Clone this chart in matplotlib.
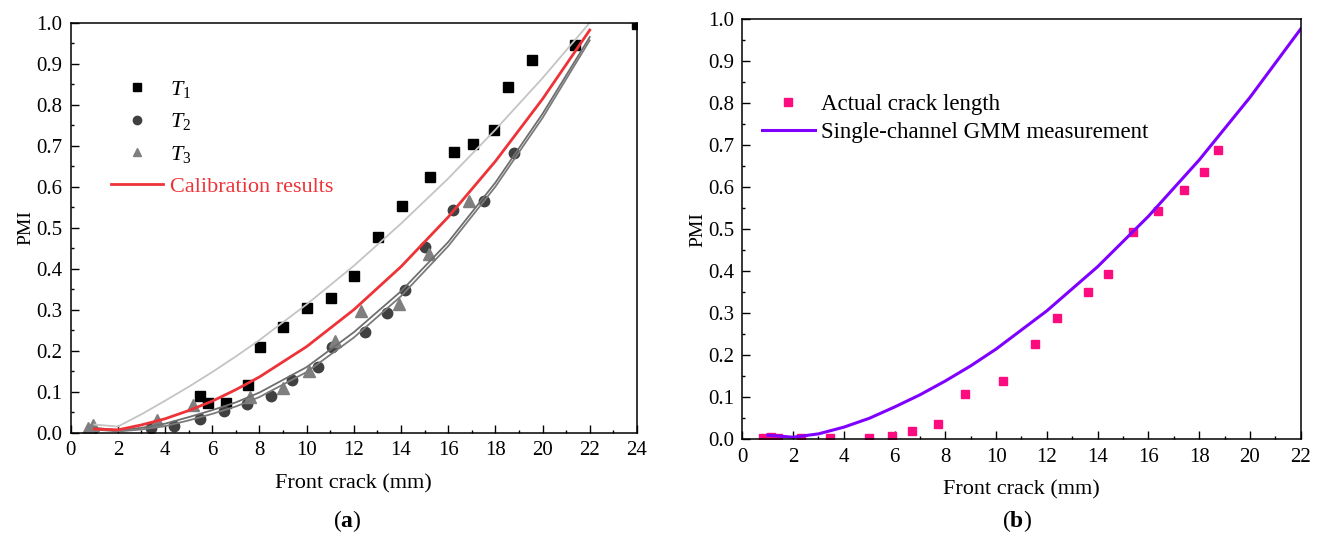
import numpy as np
import matplotlib.pyplot as plt
from matplotlib.ticker import MultipleLocator, FormatStrFormatter

plt.rcParams['font.family'] = 'Liberation Serif'
plt.rcParams['mathtext.fontset'] = 'custom'
plt.rcParams['mathtext.rm'] = 'Liberation Serif'
plt.rcParams['mathtext.it'] = 'Liberation Serif:italic'
plt.rcParams['mathtext.bf'] = 'Liberation Serif:bold'

# (a) three specimens, front crack vs PMI
t1_x = [5.5, 5.84, 6.57, 7.52, 8.03, 9.0, 10.02, 11.04, 12.02, 13.02, 14.06, 15.23, 16.25, 17.04, 17.93, 18.53, 19.57, 21.36, 24.0]
t1_y = [0.090, 0.072, 0.073, 0.116, 0.208, 0.259, 0.303, 0.328, 0.382, 0.478, 0.553, 0.624, 0.685, 0.703, 0.739, 0.844, 0.910, 0.945, 0.997]

t2_x = [0.9, 3.39, 4.38, 5.5, 6.49, 7.49, 8.48, 9.39, 10.49, 11.09, 12.49, 13.39, 14.19, 15.0, 16.2, 17.5, 18.81]
t2_y = [0.006, 0.011, 0.016, 0.034, 0.053, 0.071, 0.090, 0.129, 0.161, 0.208, 0.246, 0.293, 0.349, 0.453, 0.542, 0.565, 0.683]

t3_x = [0.75, 0.95, 3.64, 5.17, 7.6, 9.0, 10.09, 11.19, 12.31, 13.9, 15.19, 16.9]
t3_y = [0.012, 0.019, 0.031, 0.068, 0.088, 0.110, 0.151, 0.224, 0.296, 0.315, 0.436, 0.564]

fit_x = [1, 2, 3, 4, 5, 6, 7, 8, 10, 12, 14, 16, 18, 20, 22]
fit_t1 = [0.02, 0.015, 0.045, 0.078, 0.112, 0.148, 0.186, 0.226, 0.313, 0.407, 0.51, 0.62, 0.739, 0.865, 1.0]
fit_t2 = [0.012, 0.006, 0.012, 0.022, 0.038, 0.055, 0.074, 0.098, 0.16, 0.245, 0.345, 0.465, 0.61, 0.778, 0.965]
fit_t3 = [0.008, 0.003, 0.008, 0.016, 0.03, 0.046, 0.064, 0.087, 0.148, 0.232, 0.333, 0.455, 0.60, 0.768, 0.957]
calib = [0.009, 0.007, 0.019, 0.034, 0.054, 0.077, 0.105, 0.136, 0.21, 0.30, 0.405, 0.526, 0.662, 0.814, 0.982]

# (b) single-channel measurement
act_x = [0.81, 1.13, 1.39, 2.3, 3.47, 4.98, 5.9, 6.69, 7.72, 8.78, 10.29, 11.52, 12.4, 13.62, 14.41, 15.4, 16.38, 17.42, 18.21, 18.73]
act_y = [0.004, 0.006, 0.004, 0.004, 0.004, 0.002, 0.008, 0.019, 0.036, 0.109, 0.139, 0.226, 0.288, 0.350, 0.393, 0.493, 0.543, 0.593, 0.636, 0.688]

gmm_x = [1, 2, 3, 4, 5, 6, 7, 8, 9, 10, 12, 14, 16, 18, 20, 22]
gmm_y = [0.010, 0.005, 0.013, 0.029, 0.05, 0.077, 0.106, 0.139, 0.175, 0.215, 0.306, 0.411, 0.531, 0.665, 0.814, 0.977]

fig = plt.figure(figsize=(13.19, 5.38), dpi=100)
ax1 = fig.add_axes([0.0536, 0.1957, 0.4293, 0.7621])
ax2 = fig.add_axes([0.5628, 0.1834, 0.4233, 0.7807])


def style(ax, xmax):
    ax.set_xlim(0, xmax)
    ax.set_ylim(0, 1.0)
    ax.xaxis.set_major_locator(MultipleLocator(2))
    ax.xaxis.set_minor_locator(MultipleLocator(1))
    ax.yaxis.set_major_locator(MultipleLocator(0.1))
    ax.yaxis.set_minor_locator(MultipleLocator(0.05))
    ax.yaxis.set_major_formatter(FormatStrFormatter('%.1f'))
    ax.tick_params(which='both', direction='in', top=False, right=False, labelsize=15, width=1.0)
    ax.tick_params(which='major', length=5.5, pad=6)
    ax.tick_params(which='minor', length=2.5)
    for s in ax.spines.values():
        s.set_linewidth(1.1)
    ax.set_xlabel('Front crack (mm)', fontsize=16, labelpad=10)
    ax.set_ylabel('PMI', fontsize=14, labelpad=1)


style(ax1, 24)
ax1.plot(t1_x, t1_y, 's', color='black', ms=7, label='$T_1$')
ax1.plot(t2_x, t2_y, 'o', color='#404040', ms=7.5, label='$T_2$')
ax1.plot(t3_x, t3_y, '^', color='#7f7f7f', ms=8, label='$T_3$')
ax1.plot(fit_x, fit_t1, color='#c4c4c4', lw=1.3)
ax1.plot(fit_x, fit_t2, color='#6e6e6e', lw=1.3)
ax1.plot(fit_x, fit_t3, color='#7a7a7a', lw=1.3)
ax1.plot(fit_x, calib, color='#ee3338', lw=2.0, label='Calibration results')

leg1 = ax1.legend(loc='upper left', bbox_to_anchor=(0.071, 0.863), frameon=False, fontsize=16,
                  handlelength=2.35, handletextpad=0.3, labelspacing=0.52, borderpad=0,
                  borderaxespad=0, markerscale=0.8)
leg1.get_texts()[3].set_color('#ee3338')

style(ax2, 22)
ax2.plot(act_x, act_y, 's', color='#fc0c7f', ms=5.5, label='Actual crack length')
ax2.plot(gmm_x, gmm_y, color='#7f00ff', lw=2.2, label='Single-channel GMM measurement')
ax2.legend(loc='upper left', bbox_to_anchor=(0.035, 0.823), frameon=False, fontsize=16.5,
           handlelength=2.3, handletextpad=0.3, labelspacing=0.3, borderpad=0, borderaxespad=0)

fig.text(347 / 1319, 1 - 521 / 538, r'($\mathbf{a}$)', ha='center', va='center', fontsize=17)
fig.text(1017 / 1319, 1 - 521 / 538, r'($\mathbf{b}$)', ha='center', va='center', fontsize=17)

fig.savefig('out.png', dpi=100)
